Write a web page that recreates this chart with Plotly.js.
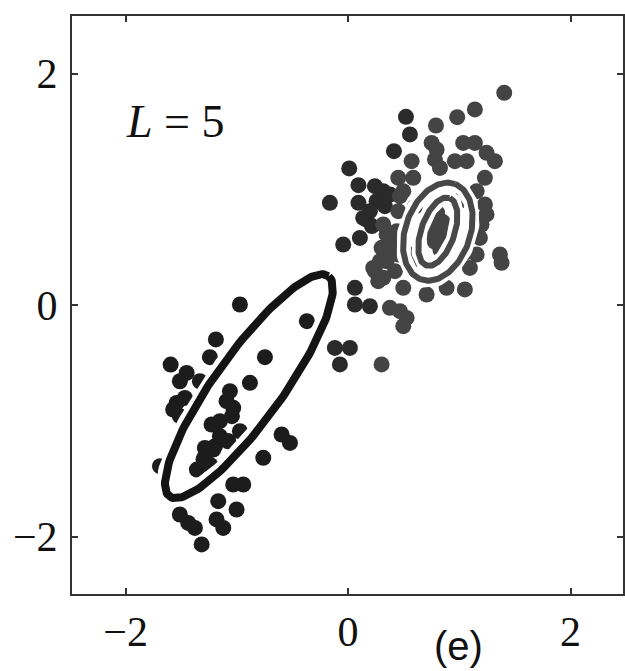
<!DOCTYPE html>
<html><head><meta charset="utf-8">
<script src="https://cdn.plot.ly/plotly-3.0.1.min.js"></script>
<style>html,body{margin:0;padding:0;background:#fff}#chart{width:625px;height:671px}</style>
</head><body><div id="chart"></div>
<script>
// Cluster 1 (lower-left, black points)
const clusterA_x = [-0.973,-0.371,-1.189,-1.243,-0.748,-1.596,-1.452,-1.513,-1.333,-0.883,-1.542,-1.468,-1.573,-1.513,-1.093,-1.033,-1.228,-1.153,-1.078,-1.288,-1.213,-0.598,-0.523,-0.763,-0.943,-1.033,-1.168,-1.003,-1.183,-1.123,-1.513,-1.438,-1.378,-1.317,-1.692,-1.30,-1.36,-1.24,-1.286,-1.197,-1.081,-0.973,-1.243,-1.153,-1.045,-1.063];
const clusterA_y = [0.006,-0.138,-0.296,-0.449,-0.449,-0.513,-0.585,-0.657,-0.657,-0.671,-0.844,-0.801,-0.901,-0.959,-0.829,-0.887,-1.031,-1.132,-1.175,-1.233,-1.247,-1.117,-1.190,-1.319,-1.549,-1.549,-1.693,-1.765,-1.851,-1.924,-1.808,-1.881,-1.924,-2.067,-1.391,-1.33,-1.42,-1.38,-1.305,-1.218,-1.175,-1.089,-1.391,-1.002,-0.959,-0.743];
// Cluster 2, darker points (towards cluster 1)
const clusterBdark_x = [0.010,0.093,0.093,-0.164,0.316,0.256,0.196,0.166,0.376,0.106,-0.044,0.061,0.061,0.196,-0.119,0.016,-0.074,0.136,0.412,0.556,0.520,0.241,0.331,0.214];
const clusterBdark_y = [1.181,1.037,0.884,0.884,0.985,0.898,0.812,0.740,0.956,0.581,0.524,0.150,0.006,-0.009,-0.369,-0.369,-0.512,0.754,1.330,1.475,1.627,1.028,0.855,0.683];
// Cluster 2, grey points
const clusterB_x = [1.404,1.140,0.981,0.790,0.751,0.796,0.781,0.826,1.035,1.140,1.245,1.320,0.960,1.066,1.230,0.571,0.451,0.586,0.451,0.346,0.301,0.406,0.241,0.316,0.271,1.230,1.245,1.200,1.185,1.156,1.095,1.365,1.380,0.496,0.706,0.886,1.050,0.376,0.466,0.526,0.496,0.301,0.496,0.438,0.316,0.226,0.346,1.156,0.451,0.81,0.78,0.85,0.76,0.86,0.80,0.83,0.74,0.88,0.62,1.00,0.60,1.05,0.376,0.286,0.421,0.466,0.511];
const clusterB_y = [1.834,1.691,1.624,1.552,1.402,1.345,1.259,1.186,1.402,1.402,1.316,1.244,1.244,1.244,1.100,1.244,1.100,1.100,0.812,0.611,0.495,0.467,0.294,0.236,0.207,0.870,0.784,0.697,0.581,0.438,0.322,0.438,0.366,0.150,0.092,0.150,0.136,-0.023,-0.052,-0.110,-0.181,-0.512,0.985,0.639,0.697,0.322,0.380,0.985,0.438,0.64,0.55,0.72,0.70,0.58,0.80,0.48,0.62,0.66,0.40,0.90,0.85,0.45,0.553,0.380,0.294,0.942,0.467];
// Gaussian contour ellipses: [lower component, upper outer, upper inner]
const ellipseCx = [-0.892, 0.807, 0.807];
const ellipseCy = [-0.700, 0.635, 0.635];
const ellipseA = [1.19, 0.44, 0.31];
const ellipseB = [0.30, 0.29, 0.15];
const ellipseAngle = [53, 69, 70];
const xTicks = [-2, 0, 2];
const yTicks = [-2, 0, 2];

function ellipsePts(i){
  const xs=[], ys=[]; const t=ellipseAngle[i]*Math.PI/180; const N=160;
  for(let k=0;k<=N;k++){const u=2*Math.PI*k/N; const ex=ellipseA[i]*Math.cos(u), ey=ellipseB[i]*Math.sin(u);
    xs.push(ellipseCx[i]+ex*Math.cos(t)-ey*Math.sin(t)); ys.push(ellipseCy[i]+ex*Math.sin(t)+ey*Math.cos(t));}
  return {xs, ys};
}
const pts = (x,y,c)=>({type:'scatter',mode:'markers',x,y,marker:{size:16,color:c,line:{width:0}},hoverinfo:'skip',showlegend:false});
const line = (i,c,w)=>{const e=ellipsePts(i); return {type:'scatter',mode:'lines',x:e.xs,y:e.ys,line:{color:c,width:w},hoverinfo:'skip',showlegend:false};};

const data = [
  pts(clusterA_x, clusterA_y, '#1c1c1c'),
  pts(clusterBdark_x, clusterBdark_y, '#2a2a2a'),
  pts(clusterB_x, clusterB_y, '#444444'),
  line(0,'#ffffff',17), line(1,'#ffffff',14), line(2,'#ffffff',14),
  line(0,'#141414',8), line(1,'#484848',6), line(2,'#484848',6)
];
const axisCommon = {showgrid:false, zeroline:false, showline:true, linecolor:'#333', linewidth:2, mirror:'allticks',
  ticks:'inside', ticklen:6, tickwidth:2, tickcolor:'#333', tickfont:{family:'Liberation Serif, Times New Roman, serif', size:42, color:'#111'}, fixedrange:true};
const layout = {
  width:625, height:671, paper_bgcolor:'#fff', plot_bgcolor:'#fff',
  margin:{l:72, r:2, t:16, b:77, pad:0},
  xaxis:Object.assign({}, axisCommon, {range:[-2.483, 2.472], tickvals:xTicks, ticklabelstandoff:0}),
  yaxis:Object.assign({}, axisCommon, {range:[-2.495, 2.498], tickvals:yTicks, ticklabelstandoff:4}),
  annotations:[
    {text:'<i>L</i> = 5', xref:'x', yref:'y', x:-1.553, y:1.59, showarrow:false, xanchor:'center', yanchor:'middle',
     font:{family:'Liberation Serif, Times New Roman, serif', size:46, color:'#111'}},
    {text:'(e)', xref:'paper', yref:'paper', x:0.7015, y:-0.09, showarrow:false, xanchor:'center', yanchor:'middle',
     font:{family:'Liberation Sans, Arial, sans-serif', size:40, color:'#111'}}
  ]
};
Plotly.newPlot('chart', data, layout, {displayModeBar:false, staticPlot:true});
</script></body></html>
